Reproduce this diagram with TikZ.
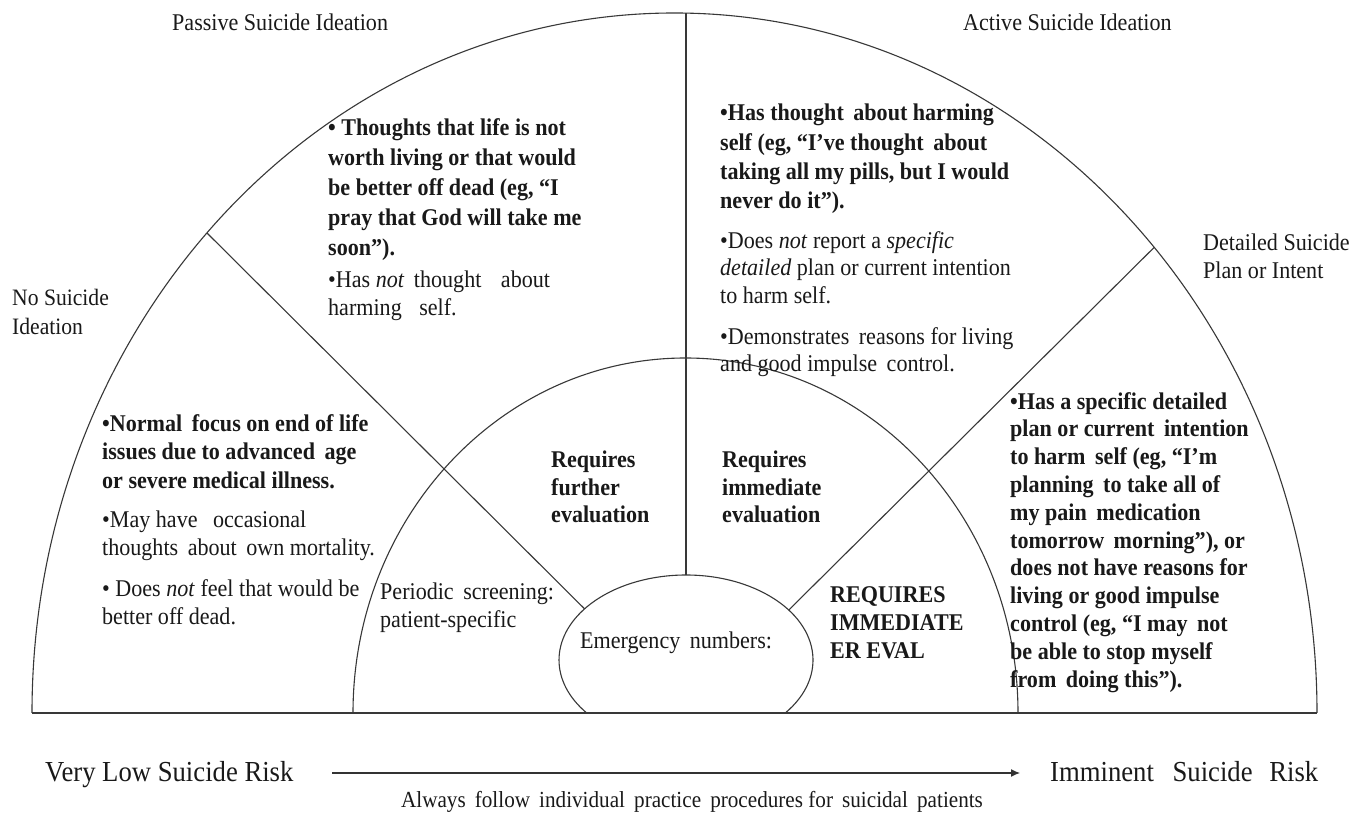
\documentclass[tikz,border=0pt]{standalone}
\usepackage{fontspec}
\setmainfont{Liberation Serif}[FakeStretch=0.92]
\usetikzlibrary{arrows.meta,calc}
\begin{document}
\begin{tikzpicture}[x=1pt,y=1pt,
  ln/.style={draw=black!78, line width=1.1pt},
  txt/.style={inner sep=0pt, anchor=north west, align=left, text=black!90},
  rg/.style={txt, font=\fontsize{24}{28}\selectfont},
  bd/.style={txt, font=\fontsize{24}{29}\selectfont\bfseries},
  ttl/.style={inner sep=0pt, anchor=west, text=black!90, font=\fontsize{24}{28}\selectfont},
  big/.style={inner sep=0pt, anchor=west, text=black!90, font=\fontsize{29}{32}\selectfont, text height=1.6ex, text depth=0.5ex}
]
\fill[white] (0,0) rectangle (1355,814);
\useasboundingbox (0,0) rectangle (1355,814);

% geometry
\coordinate (O) at (674.5,101);
\coordinate (E) at (686,154);
\coordinate (bL) at (32,101);
\coordinate (bR) at (1317,101);
\coordinate (iL) at (353,101);
\coordinate (oL) at ($(O)+(136.7:642.5 and 700)$);
\coordinate (oR) at ($(O)+(41.7:642.5 and 700)$);
\coordinate (eL) at ($(E)+(143:127 and 85)$);
\coordinate (eR) at ($(E)+(36:127 and 85)$);
\coordinate (oT) at (686,800.9);
\coordinate (eT) at (686,239);
\coordinate (eS) at ($(E)+(-38.6:127 and 85)$);

\draw[ln] (bL) arc[start angle=180,end angle=0,x radius=642.5,y radius=700];
\draw[ln] (iL) arc[start angle=180,end angle=0,x radius=332.5,y radius=355];
\draw[ln] (bL) -- (bR);
\draw[ln] (eS) arc[start angle=-38.6,end angle=218.6,x radius=127,y radius=85];
\draw[ln] (oT) -- (eT);
\draw[ln] (oL) -- (eL);
\draw[ln] (oR) -- (eR);

% titles
\node[ttl] (pass) at (172,792) {Passive Suicide Ideation};
\node[ttl] (act) at (963,792) {Active Suicide Ideation};
\node[rg, font=\fontsize{23.5}{29}\selectfont] (nosi) at (12,525) {No Suicide\\Ideation};
\node[rg] (det) at (1203,580) {Detailed Suicide\\Plan or Intent};

% passive
\node[bd, font=\fontsize{24}{30}\selectfont\bfseries] (p1) at (328,696) {• Thoughts that life is not\\worth living or that would\\be better off dead (eg, “I\\pray that God will take me\\soon”).};
\node[rg] (p2) at (328,543) {•Has \textit{not}\hspace{4pt} thought\hspace{14pt} about\\harming\hspace{12pt} self.};

% active
\node[bd, font=\fontsize{24}{29.3}\selectfont\bfseries] (a1) at (720,710) {•Has thought\, about harming\\self (eg, “I’ve thought\, about\\taking all my pills, but I would\\never do it”).};
\node[rg, font=\fontsize{24}{27.5}\selectfont] (a2) at (720,583) {•Does \textit{not} report a \textit{specific}\\\textit{detailed} plan or current intention\\to harm self.};
\node[rg, font=\fontsize{24}{27}\selectfont] (a3) at (720,487) {•Demonstrates\, reasons for living\\and good impulse\, control.};

% no ideation
\node[bd, font=\fontsize{24}{28.5}\selectfont\bfseries] (l1) at (102,400) {•Normal\, focus on end of life\\issues due to advanced\, age\\or severe medical illness.};
\node[rg] (l2) at (102,303) {•May have\hspace{10pt} occasional\\thoughts\, about\, own mortality.};
\node[rg] (l3) at (102,235) {• Does \textit{not} feel that would be\\better off dead.};

% detailed
\node[bd, font=\fontsize{24}{27.8}\selectfont\bfseries] (r1) at (1010,422) {•Has a specific detailed\\plan or current\, intention\\to harm\, self (eg, “I’m\\planning\, to take all of\\my pain\, medication\\tomorrow\, morning”), or\\does not have reasons for\\living or good impulse\\control (eg, “I may\, not\\be able to stop myself\\from\, doing this”).};

% inner zone
\node[bd, font=\fontsize{24}{27.5}\selectfont\bfseries] (rf) at (551,363) {Requires\\further\\evaluation};
\node[bd, font=\fontsize{24}{27.5}\selectfont\bfseries] (ri) at (722,363) {Requires\\immediate\\evaluation};
\node[rg] (per) at (380,231) {Periodic\, screening:\\patient-specific};
\node[ttl] (emg) at (580,171) {Emergency\, numbers:};
\node[bd, font=\fontsize{24}{28}\selectfont\bfseries] (er) at (830,228) {REQUIRES\\IMMEDIATE\\ER EVAL};

% bottom
\node[big] (low) at (45,35) {Very Low Suicide Risk};
\node[big] (imm) at (1050,35) {Imminent\hspace{12pt} Suicide\hspace{10pt} Risk};
\coordinate (aS) at (332,41);
\coordinate (aE) at (1020,41);
\draw[black!80, line width=1.2pt, -{Latex[length=9pt,width=8pt]}] (aS) -- (aE);
\node[inner sep=0pt, text=black!90, font=\fontsize{23}{26}\selectfont] (alw) at (692,12) {Always\, follow\, individual\, practice\, procedures for\, suicidal\, patients};
\end{tikzpicture}
\end{document}
